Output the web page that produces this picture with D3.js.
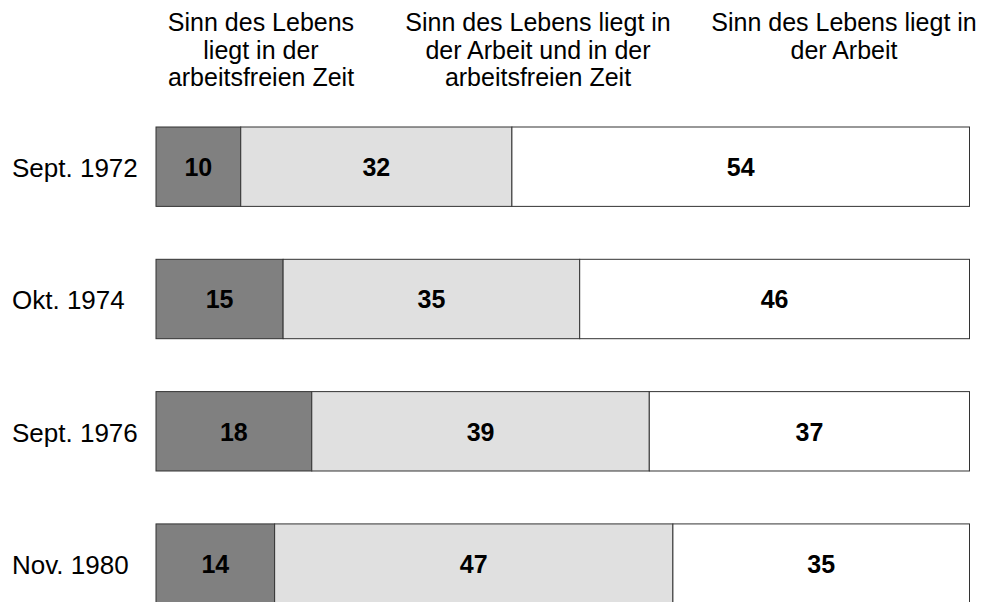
<!DOCTYPE html>
<html><head><meta charset="utf-8">
<script src="https://cdn.jsdelivr.net/npm/d3@7"></script>
<style>html,body{margin:0;padding:0;background:#fff;}svg{display:block;}</style>
</head><body>
<script>
const categories = ["Sept. 1972", "Okt. 1974", "Sept. 1976", "Nov. 1980"];
const seriesNames = [
  ["Sinn des Lebens", "liegt in der", "arbeitsfreien Zeit"],
  ["Sinn des Lebens liegt in", "der Arbeit und in der", "arbeitsfreien Zeit"],
  ["Sinn des Lebens liegt in", "der Arbeit"]
];
const freizeit = [10, 15, 18, 14];
const beides = [32, 35, 39, 47];
const arbeit = [54, 46, 37, 35];
const colors = ["#808080", "#e0e0e0", "#ffffff"];

const W = 983, H = 602;
const svg = d3.select("body").append("svg").attr("width", W).attr("height", H);
const font = "'Liberation Sans', Arial, sans-serif";

const y = d3.scaleBand().domain(categories).range([127, 603.3]).paddingInner(0.4).paddingOuter(0);
const headerX = [261, 538, 844];

// headers
seriesNames.forEach((lines, i) => {
  const t = svg.append("text").attr("x", headerX[i]).attr("y", 31)
    .attr("text-anchor", "middle").attr("font-family", font).attr("font-size", 25).attr("fill", "#000");
  lines.forEach((l, j) => t.append("tspan").attr("x", headerX[i]).attr("y", 31 + j * 27.5).text(l));
});

const rows = categories.map((c, i) => ({cat: c, vals: [freizeit[i], beides[i], arbeit[i]]}));

rows.forEach(r => {
  const total = d3.sum(r.vals);
  const x = d3.scaleLinear().domain([0, total]).range([156, 969.5]);
  const by = y(r.cat), bh = y.bandwidth();
  let acc = 0;
  r.vals.forEach((v, k) => {
    const x0 = x(acc), x1 = x(acc + v);
    svg.append("rect").attr("x", x0).attr("y", by).attr("width", x1 - x0).attr("height", bh)
      .attr("fill", colors[k]).attr("stroke", "#333").attr("stroke-width", 1);
    svg.append("text").attr("x", (x0 + x1) / 2).attr("y", by + bh / 2 + 9.5)
      .attr("text-anchor", "middle").attr("font-family", font).attr("font-size", 25)
      .attr("font-weight", "bold").attr("fill", "#000").text(v);
    acc += v;
  });
  svg.append("text").attr("x", 12).attr("y", by + bh / 2 + 10.5)
    .attr("font-family", font).attr("font-size", 26).attr("fill", "#000").text(r.cat);
});
</script>
</body></html>
